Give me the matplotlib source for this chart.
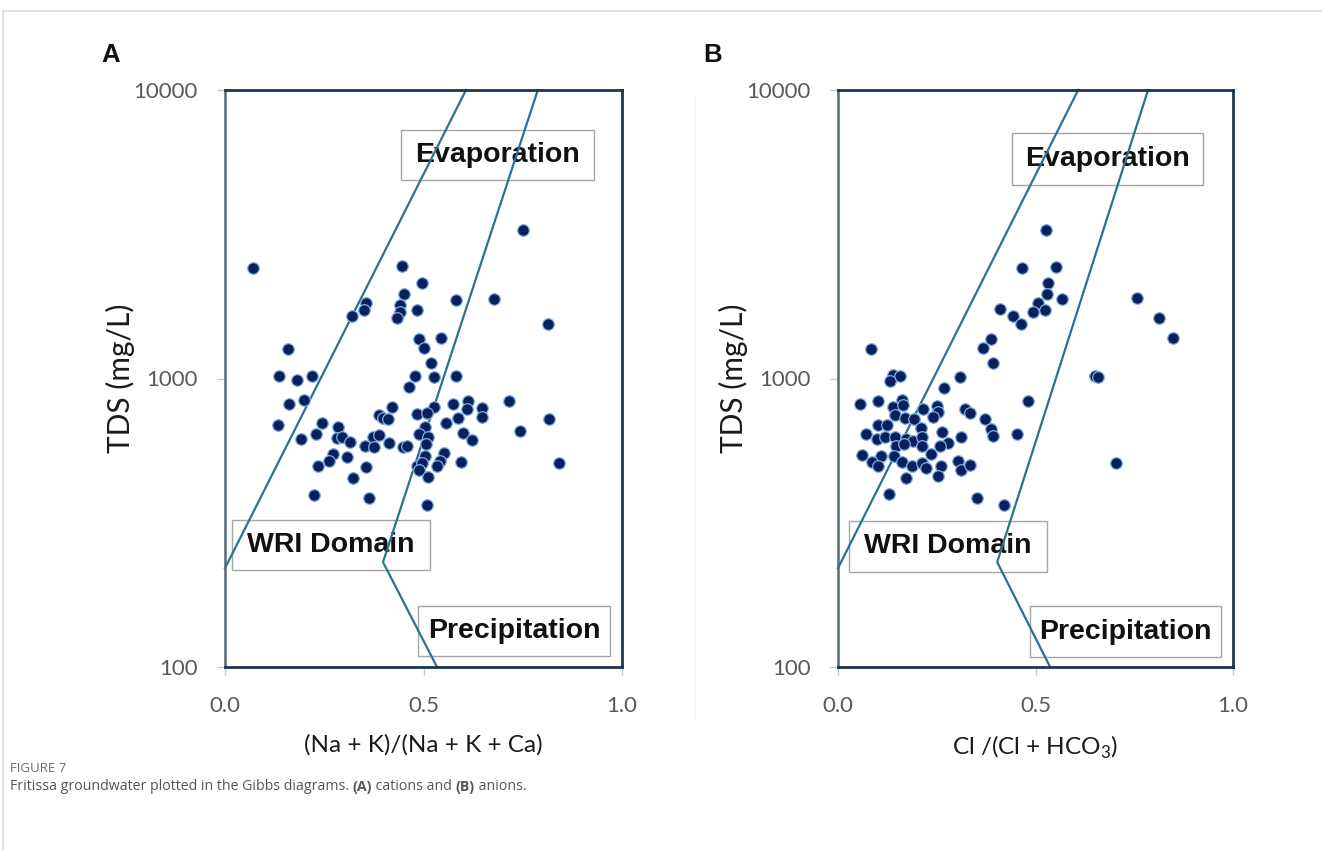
import numpy as np
import matplotlib
matplotlib.use('Agg')
import matplotlib.pyplot as plt
from matplotlib.patches import Rectangle
from matplotlib.lines import Line2D

# ---------------- data ----------------
cation_ratio = [0.071, 0.445, 0.495, 0.452, 0.581, 0.678, 0.354, 0.351, 0.441, 0.441,
                0.483, 0.319, 0.434, 0.813, 0.489, 0.543, 0.500, 0.158, 0.518, 0.137,
                0.181, 0.218, 0.479, 0.527, 0.581, 0.464, 0.161, 0.198, 0.420, 0.575,
                0.613, 0.609, 0.648, 0.648, 0.716, 0.527, 0.483, 0.508, 0.389, 0.399,
                0.411, 0.133, 0.245, 0.284, 0.556, 0.586, 0.817, 0.504, 0.191, 0.229,
                0.281, 0.294, 0.315, 0.353, 0.372, 0.389, 0.376, 0.414, 0.449, 0.459,
                0.489, 0.512, 0.506, 0.599, 0.623, 0.743, 0.273, 0.307, 0.262, 0.235,
                0.354, 0.504, 0.552, 0.542, 0.535, 0.594, 0.483, 0.495, 0.489, 0.512,
                0.842, 0.322, 0.225, 0.363, 0.510, 0.751]
cation_tds = [2420, 2450, 2140, 1960, 1870, 1890, 1820, 1730, 1800, 1700,
              1730, 1650, 1620, 1550, 1370, 1380, 1280, 1270, 1130, 1020,
              986, 1020, 1020, 1014, 1020, 932, 814, 842, 798, 814,
              836, 784, 788, 737, 834, 798, 753, 761, 747, 731,
              722, 690, 699, 677, 703, 728, 722, 677, 617, 641,
              621, 628, 601, 585, 628, 637, 580, 596, 580, 585,
              641, 628, 593, 646, 612, 658, 546, 536, 518, 499,
              495, 539, 551, 518, 499, 515, 497, 511, 482, 457,
              511, 453, 395, 384, 364, 3270]

anion_ratio = [0.526, 0.465, 0.552, 0.532, 0.528, 0.566, 0.507, 0.494, 0.524, 0.410,
               0.442, 0.463, 0.756, 0.813, 0.847, 0.387, 0.366, 0.393, 0.084, 0.309,
               0.268, 0.138, 0.157, 0.132, 0.651, 0.657, 0.482, 0.056, 0.102, 0.138,
               0.161, 0.165, 0.216, 0.250, 0.254, 0.241, 0.322, 0.334, 0.372, 0.144,
               0.170, 0.193, 0.102, 0.123, 0.071, 0.098, 0.119, 0.144, 0.171, 0.189,
               0.210, 0.213, 0.263, 0.279, 0.258, 0.311, 0.387, 0.393, 0.452, 0.147,
               0.167, 0.213, 0.060, 0.109, 0.142, 0.235, 0.085, 0.101, 0.161, 0.187,
               0.213, 0.222, 0.260, 0.254, 0.303, 0.311, 0.334, 0.703, 0.172, 0.129,
               0.353, 0.420]
anion_tds = [3270, 2420, 2440, 2140, 1960, 1880, 1820, 1700, 1730, 1740,
             1650, 1545, 1900, 1620, 1380, 1370, 1280, 1130, 1270, 1014,
             929, 1028, 1020, 980, 1020, 1010, 836, 814, 836, 798,
             842, 809, 782, 803, 767, 734, 782, 761, 722, 747,
             728, 722, 690, 690, 641, 617, 625, 628, 617, 607,
             672, 628, 651, 599, 585, 628, 667, 632, 641, 585,
             592, 585, 543, 540, 540, 547, 515, 499, 512, 497,
             508, 491, 497, 459, 518, 482, 501, 511, 453, 397,
             386, 364]

# Gibbs boundary curves (ratio, TDS)
a_left_x, a_left_tds = [0.0, 0.607], [220, 10000]
a_right_x, a_right_tds = [0.788, 0.398, 0.534], [10000, 231, 100]
b_left_x, b_left_tds = [0.0, 0.608], [220, 10000]
b_right_x, b_right_tds = [0.785, 0.403, 0.537], [10000, 231, 100]

x_ticks = [0.0, 0.5, 1.0]
x_ticklabels = ['0.0', '0.5', '1.0']
y_ticks = [100, 1000, 10000]
y_ticklabels = ['100', '1000', '10000']

zone_labels = ['Evaporation', 'WRI Domain', 'Precipitation']

# ---------------- style ----------------
plt.rcParams['mathtext.fontset'] = 'custom'
plt.rcParams['mathtext.rm'] = 'Lato'
SPINE = '#1c3550'
LINE = '#2a7293'
FACE = '#0a1f5c'
EDGE = '#7fb0e0'
TICKC = '#595959'

fig = plt.figure(figsize=(13.22, 8.5), dpi=100)
W, H = 1322, 850

def fx(px):
    return px / W

def fy(py):
    return 1 - py / H

panels = [
    dict(left=225, right=622, x=cation_ratio, y=cation_tds,
         lx=a_left_x, ly=a_left_tds, rx=a_right_x, ry=a_right_tds,
         xlabel='(Na + K)/(Na + K + Ca)', letter='A', letter_px=(111, 55),
         boxes=[(0.443, 0.844, 0.486, 0.087), (0.018, 0.168, 0.498, 0.087), (0.486, 0.019, 0.484, 0.087)]),
    dict(left=838, right=1233, x=anion_ratio, y=anion_tds,
         lx=b_left_x, ly=b_left_tds, rx=b_right_x, ry=b_right_tds,
         xlabel=r'Cl /(Cl + HCO$_\mathregular{3}$)', letter='B', letter_px=(713, 55),
         boxes=[(0.441, 0.835, 0.483, 0.090), (0.028, 0.165, 0.501, 0.088), (0.486, 0.017, 0.484, 0.089)]),
]

top, bottom = 90, 667
for p in panels:
    w_px = p['right'] - p['left']
    ax = fig.add_axes([fx(p['left']), fy(bottom), fx(w_px), (bottom - top) / H])
    ax.set_yscale('log')
    ax.set_xlim(0, 1)
    ax.set_ylim(100, 10000)
    for name, s in ax.spines.items():
        s.set_color(SPINE)
        s.set_linewidth(2.0)
        s.set_zorder(6)
    ax.spines['left'].set_color('#55677c')
    ax.spines['left'].set_linewidth(1.8)
    ax.set_xticks(x_ticks)
    ax.set_xticklabels(x_ticklabels)
    ax.set_yticks(y_ticks)
    ax.set_yticklabels(y_ticklabels)
    ax.yaxis.set_minor_locator(matplotlib.ticker.NullLocator())
    ax.tick_params(axis='both', length=6, width=1.0, color='#c8c8c8', labelcolor=TICKC,
                   labelsize=16)
    ax.tick_params(axis='y', pad=13.5)
    ax.tick_params(axis='x', pad=15)
    for lab in ax.get_xticklabels() + ax.get_yticklabels():
        lab.set_family('Lato')
    ax.set_ylabel('TDS (mg/L)', fontsize=21.5, family='Lato', color='#1a1a1a')
    ax.yaxis.set_label_coords(-90 / w_px, 0.5)
    ax.set_xlabel(p['xlabel'], fontsize=17.5, family='Lato', color='#1a1a1a')
    ax.xaxis.set_label_coords(0.5, -(734 - 667) / 577)

    for (bx, by, bw, bh), txt in zip(p['boxes'], zone_labels):
        ax.add_patch(Rectangle((bx, by), bw, bh, transform=ax.transAxes, facecolor='white',
                               edgecolor='#a6a6a6', linewidth=1.0, zorder=2))
        ax.text(bx + bw / 2, by + bh / 2, txt, transform=ax.transAxes, ha='center', va='center',
                fontsize=20.5, fontweight='bold', family='Liberation Sans', color='#111111', zorder=3)

    ax.plot(p['lx'], p['ly'], color=LINE, lw=1.6, zorder=4, clip_on=False)
    ax.plot(p['rx'], p['ry'], color=LINE, lw=1.6, zorder=4, clip_on=False)
    ax.scatter(p['x'], p['y'], s=70, color=FACE, edgecolor=EDGE, linewidth=0.9, zorder=5)

    lx, ly = p['letter_px']
    fig.text(fx(lx), fy(ly), p['letter'], fontsize=18.5, fontweight='bold', family='Liberation Sans',
             ha='center', va='center', color='#111111')

# frame lines of the figure page
fig.add_artist(Line2D([fx(3), 1], [fy(11), fy(11)], color='#d9d9d9', lw=1.2))
fig.add_artist(Line2D([fx(3), fx(3)], [0, fy(11)], color='#d9d9d9', lw=1.2))
fig.add_artist(Line2D([fx(695), fx(695)], [fy(95), fy(720)], color='#f0f0f0', lw=1.0))

# caption
fig.text(fx(10), fy(768), 'FIGURE 7', fontsize=9.5, family='Open Sans', color='#6b6b6b',
         ha='left', va='center')
pieces = [('Fritissa groundwater plotted in the Gibbs diagrams. ', 'normal'),
          ('(A)', 'bold'), (' cations and ', 'normal'), ('(B)', 'bold'), (' anions.', 'normal')]
fig.canvas.draw()
renderer = fig.canvas.get_renderer()
xpos = 10
for txt, wt in pieces:
    t = fig.text(fx(xpos), fy(787), txt, fontsize=10.2, family='Open Sans', color='#555555',
                 fontweight=wt, ha='left', va='center')
    bb = t.get_window_extent(renderer=renderer)
    xpos += bb.width

fig.savefig('out.png', dpi=100)
